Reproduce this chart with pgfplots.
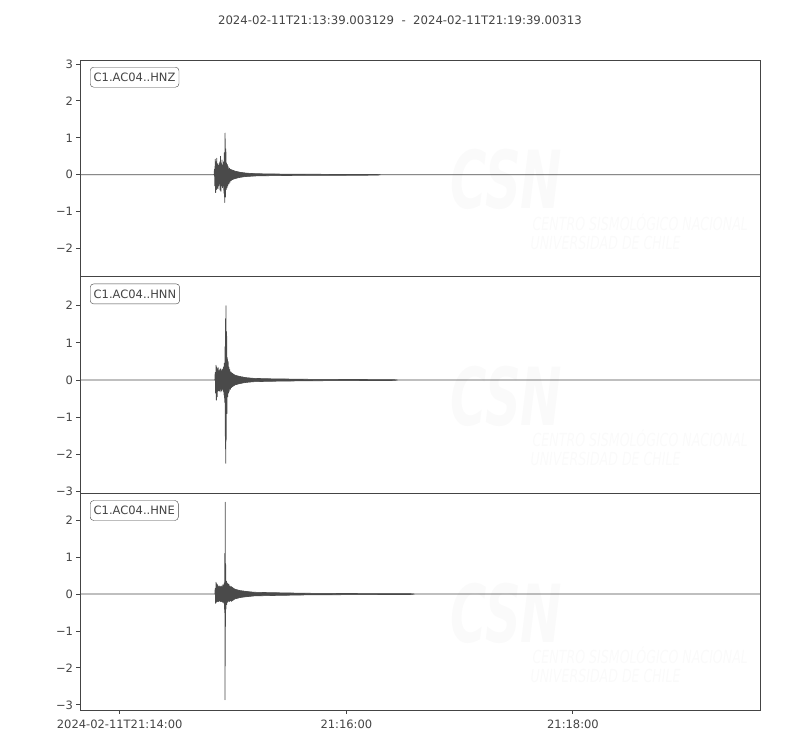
\documentclass[border=0pt]{standalone}
\usepackage{fontspec}
\setmainfont{DejaVu Sans}
\usepackage{pgfplots}
\pgfplotsset{compat=1.18}

\definecolor{txt}{HTML}{444444}
\definecolor{trace}{HTML}{4A4A4A}
\definecolor{wm}{HTML}{FAFAFA}

\newcommand{\wmark}{%
  \node[text=wm, font=\fontsize{80bp}{80bp}\selectfont\bfseries\itshape, anchor=center, xscale=0.62]
    at (rel axis cs:0.627,0.447) {CSN};
  \node[text=wm, font=\fontsize{18bp}{18bp}\selectfont\itshape, anchor=west, xscale=0.7]
    at (rel axis cs:0.662,0.253) {CENTRO SISMOLÓGICO NACIONAL};
  \node[text=wm, font=\fontsize{18bp}{18bp}\selectfont\itshape, anchor=west, xscale=0.7]
    at (rel axis cs:0.659,0.157) {UNIVERSIDAD DE CHILE};
}

\tikzset{
  lab/.style={draw=txt, rounded corners=3.5bp, fill=white, text=txt, inner xsep=3.5bp,
    minimum height=20bp, anchor=north west, font=\fontsize{11.5bp}{14bp}\selectfont},
}

\pgfplotsset{
  seis/.style={
    scale only axis,
    width=680bp, height=216.7bp,
    anchor=north west,
    xmin=0, xmax=360,
    axis line style={txt, line width=1bp},
    tick style={txt, line width=1bp},
    major tick length=3.5bp,
    tick align=outside,
    ytick pos=left,
    xtick pos=bottom,
    tick label style={text=txt, font=\fontsize{11.5bp}{14bp}\selectfont},
    xticklabel style={yshift=-3bp},
    clip=true,
  },
  tr/.style={trace, line width=0.8bp, line join=round},
  env/.style={fill=trace, draw=trace, line width=0.6bp, line join=round},
}

\begin{document}
\begin{tikzpicture}
\path (0,0) rectangle (800bp,-750bp);

\node[text=txt, font=\fontsize{11.7bp}{14bp}\selectfont] at (400bp,-20bp)
  {2024-02-11T21:13:39.003129\ \ -\ \ 2024-02-11T21:19:39.00313};

% HNZ
\begin{axis}[seis, at={(80bp,-60bp)},
  ymin=-2.76, ymax=3.11,
  ytick={-2,-1,0,1,2,3}, yticklabels={−2,−1,0,1,2,3},
  xtick=\empty]
\wmark
\addplot[tr] coordinates {
(0,0) (71,0)
(71.2,0.15) (71.4,-0.3) (71.6,0.42) (71.8,-0.48) (72.0,0.35) (72.2,-0.4) (72.4,0.45) (72.6,-0.35)
(72.8,0.3) (73.0,-0.38) (73.2,0.25) (73.4,-0.3) (73.6,0.3) (73.8,-0.25) (74.0,0.35) (74.2,-0.42)
(74.4,0.5) (74.6,-0.45) (74.8,0.3) (75.0,-0.3) (75.2,0.4) (75.4,-0.35) (75.6,0.25) (75.8,-0.3)
(76.0,0.35) (76.2,-0.5) (76.4,0.6) (76.6,-0.75) (76.8,1.13) (77.0,-0.6) (77.2,0.7) (77.4,-0.4)
(77.6,0.32) (77.8,-0.35) (78.0,0.28) (78.2,-0.3) (78.5,0.22) (78.8,-0.25) (79.1,0.18) (79.4,-0.2)
(79.7,0.15) (80.0,-0.16) (80.4,0.12) (80.8,-0.13) (81.2,0.11) (81.6,-0.11) (82.0,0.09) (82.5,-0.1)
(83,0.08) (83.5,-0.08) (84,0.07) (84.5,-0.07) (85,0.06) (85.5,-0.06) (86,0.055) (86.5,-0.05)
(87,0.05) (87.5,-0.045) (88,0.045) (88.5,-0.04) (89,0.04) (89.5,-0.04) (90,0.035) (90.5,-0.035)
(91,0.035) (91.5,-0.03) (92,0.03) (93,0) (360,0)
};
% coda envelope
\addplot[env] coordinates {
(80,0.14) (82,0.1) (85,0.065) (88,0.045) (92,0.032) (100,0.024) (110,0.018) (120,0.015)
(140,0.012) (157,0.01) (159,0)
(157,-0.01) (140,-0.012) (120,-0.015) (110,-0.018) (100,-0.024) (92,-0.032) (88,-0.045)
(85,-0.065) (82,-0.1) (80,-0.14)} \closedcycle;
\node[lab] at (rel axis cs:0,1) [xshift=10bp, yshift=-7bp] {C1.AC04..HNZ};
\end{axis}

% HNN
\begin{axis}[seis, at={(80bp,-276.7bp)},
  ymin=-3.05, ymax=2.78,
  ytick={-3,-2,-1,0,1,2}, yticklabels={−3,−2,−1,0,1,2},
  xtick=\empty]
\wmark
\addplot[tr] coordinates {
(0,0) (71.4,0)
(71.6,0.2) (71.8,-0.35) (72.0,0.4) (72.2,-0.54) (72.4,0.35) (72.6,-0.45) (72.8,0.3) (73.0,-0.3)
(73.2,0.33) (73.4,-0.28) (73.6,0.25) (73.8,-0.3) (74.0,0.28) (74.2,-0.25) (74.4,0.3) (74.6,-0.32)
(74.8,0.25) (75.0,-0.28) (75.2,0.3) (75.4,-0.25) (75.6,0.28) (75.8,-0.3) (76.0,0.35) (76.2,-0.4)
(76.4,0.45) (76.6,-0.6) (76.8,0.9) (77.0,-1.85) (77.1,1.65) (77.2,-2.24) (77.3,2.0) (77.4,-1.6)
(77.6,1.3) (77.8,-0.9) (78.0,0.6) (78.2,-0.45) (78.4,0.5) (78.6,-0.35) (78.8,0.35) (79.0,-0.3)
(79.3,0.28) (79.6,-0.25) (79.9,0.22) (80.2,-0.2) (80.5,0.18) (80.8,-0.17) (81.2,0.15) (81.6,-0.14)
(82.0,0.13) (82.5,-0.12) (83.0,0.11) (83.5,-0.1) (84,0.1) (84.5,-0.09) (85,0.09) (85.5,-0.08)
(86,0.08) (86.5,-0.07) (87,0.07) (87.5,-0.065) (88,0.06) (88.5,-0.06) (89,0.055) (89.5,-0.05)
(90,0.05) (90.5,-0.045) (91,0.045) (91.5,-0.04) (92,0.04) (93,0) (360,0)
};
\addplot[env] coordinates {
(80,0.2) (82,0.13) (85,0.09) (88,0.062) (92,0.045) (100,0.034) (110,0.027) (120,0.02)
(140,0.015) (166,0.011) (168,0)
(166,-0.011) (140,-0.015) (120,-0.02) (110,-0.027) (100,-0.034) (92,-0.045) (88,-0.062)
(85,-0.09) (82,-0.13) (80,-0.2)} \closedcycle;
\node[lab] at (rel axis cs:0,1) [xshift=10bp, yshift=-7bp] {C1.AC04..HNN};
\end{axis}

% HNE
\begin{axis}[seis, at={(80bp,-493.3bp)},
  ymin=-3.14, ymax=2.73,
  ytick={-3,-2,-1,0,1,2}, yticklabels={−3,−2,−1,0,1,2},
  xtick={20.997,140.997,260.997},
  xticklabels={2024-02-11T21:14:00,21:16:00,21:18:00}]
\wmark
\addplot[tr] coordinates {
(0,0) (71.4,0)
(71.6,0.15) (71.8,-0.25) (72.0,0.32) (72.2,-0.22) (72.4,0.28) (72.6,-0.2) (72.8,0.25) (73.0,-0.2)
(73.2,0.22) (73.4,-0.2) (73.6,0.2) (73.8,-0.18) (74.0,0.22) (74.2,-0.2) (74.4,0.2) (74.6,-0.2)
(74.8,0.22) (75.0,-0.2) (75.2,0.2) (75.4,-0.22) (75.6,0.25) (75.8,-0.22) (76.0,0.25) (76.2,-0.25)
(76.4,0.3) (76.6,-0.5) (76.7,1.1) (76.8,-2.86) (76.9,2.49) (77.0,-0.88) (77.1,0.8) (77.3,-0.4)
(77.5,0.35) (77.7,-0.28) (77.9,0.3) (78.1,-0.22) (78.3,0.28) (78.5,-0.2) (78.8,0.26) (79.1,-0.2)
(79.4,0.22) (79.7,-0.18) (80.0,0.2) (80.4,-0.15) (80.8,0.17) (81.2,-0.14) (81.6,0.14) (82.0,-0.12)
(82.5,0.13) (83,-0.11) (83.5,0.11) (84,-0.1) (84.5,0.1) (85,-0.09) (85.5,0.09) (86,-0.08)
(86.5,0.085) (87,-0.075) (87.5,0.075) (88,-0.07) (88.5,0.07) (89,-0.065) (89.5,0.06) (90,-0.055)
(90.5,0.055) (91,-0.05) (91.5,0.05) (92,-0.048) (93,0) (360,0)
};
\addplot[env] coordinates {
(80,0.2) (82,0.13) (85,0.09) (88,0.07) (92,0.05) (100,0.04) (110,0.031) (120,0.022)
(140,0.016) (160,0.012) (175,0.01) (177,0)
(175,-0.01) (160,-0.012) (140,-0.016) (120,-0.022) (110,-0.031) (100,-0.04) (92,-0.05) (88,-0.07)
(85,-0.09) (82,-0.13) (80,-0.2)} \closedcycle;
\node[lab] at (rel axis cs:0,1) [xshift=10bp, yshift=-7bp] {C1.AC04..HNE};
\end{axis}

\pgfresetboundingbox
\useasboundingbox (0,0) rectangle (800bp,-750bp);
\end{tikzpicture}
\end{document}
